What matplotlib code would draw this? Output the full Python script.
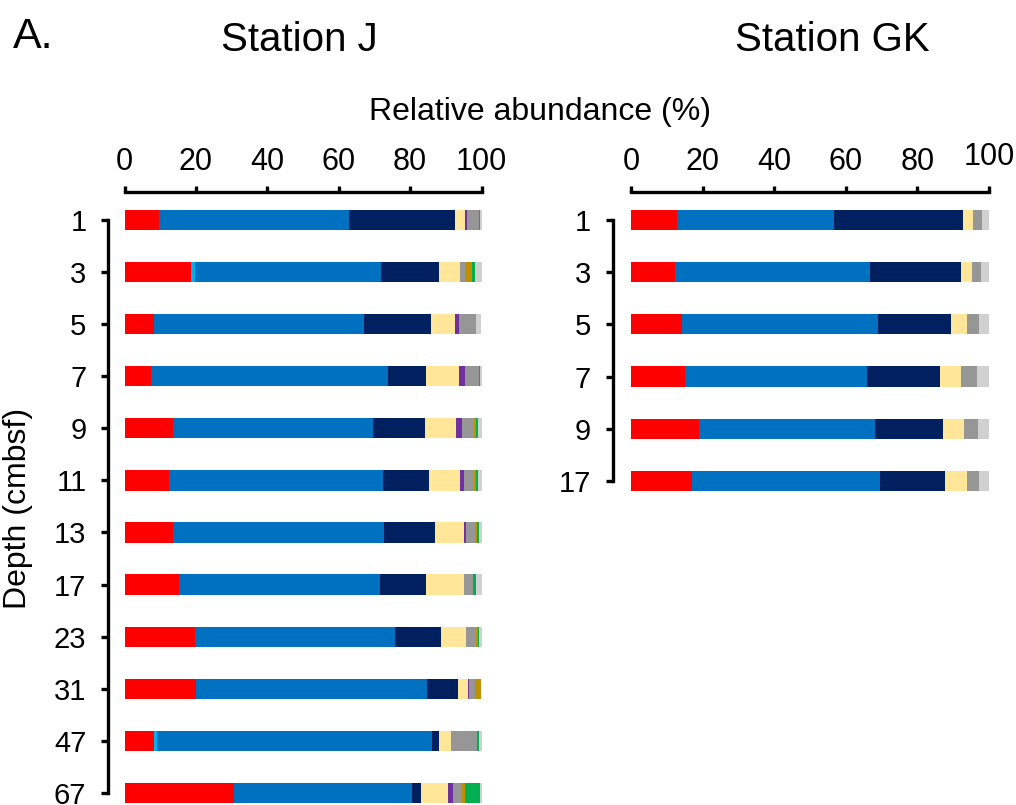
import matplotlib

matplotlib.use("Agg")
import matplotlib.pyplot as plt
import matplotlib.transforms as mtransforms
import numpy as np

plt.rcParams.update({
    "font.family": ["Liberation Sans", "DejaVu Sans"],
    "font.size": 22,
})

TAXA = ["red", "cyan", "blue", "navy", "yellow", "purple", "gray", "gold", "green", "lightgray"]
TAXA_COLORS = ["#FF0000", "#00B0F0", "#0070C0", "#002060", "#FFE699",
               "#7030A0", "#969696", "#BF9000", "#00B050", "#D0D0D0"]

# station J, relative abundance (%) per depth, in TAXA order
depth_j = ["1", "3", "5", "7", "9", "11", "13", "17", "23", "31", "47", "67"]
red_j = [9.7, 18.5, 8.3, 7.4, 13.7, 12.5, 13.5, 15.2, 19.8, 20.1, 8.3, 30.7]
cyan_j = [0, 1.2, 0, 0, 0, 0, 0, 0, 0, 0, 0.7, 0]
blue_j = [53.3, 52.1, 58.8, 66.3, 55.9, 59.8, 59.3, 56.4, 56.0, 64.6, 77.1, 49.8]
navy_j = [29.7, 16.4, 18.8, 10.7, 14.5, 13.0, 14.2, 12.8, 12.9, 8.6, 2.1, 2.6]
yellow_j = [2.7, 5.8, 6.6, 9.4, 8.7, 8.8, 8.1, 10.8, 6.9, 3.0, 3.3, 7.6]
purple_j = [0.5, 0, 1.3, 1.7, 1.7, 1.0, 0.6, 0, 0, 0.3, 0, 1.4]
gray_j = [3.3, 1.5, 4.6, 3.8, 3.3, 2.8, 2.5, 2.3, 2.9, 1.6, 7.2, 2.4]
gold_j = [0, 1.9, 0, 0, 0.6, 0.5, 0.4, 0, 0.4, 1.6, 0, 1.0]
green_j = [0.4, 0.7, 0, 0.4, 0.7, 0.7, 0.6, 1.0, 0.4, 0, 0.6, 4.2]
lgray_j = [0.4, 1.9, 1.6, 0.3, 0.9, 0.9, 0.8, 1.5, 0.7, 0.2, 0.7, 0.3]

# station GK
depth_gk = ["1", "3", "5", "7", "9", "17"]
red_gk = [12.9, 12.4, 14.2, 15.2, 18.9, 17.1]
blue_gk = [43.8, 54.4, 54.9, 50.7, 49.2, 52.5]
navy_gk = [36.1, 25.3, 20.2, 20.3, 19.0, 18.1]
yellow_gk = [2.6, 3.2, 4.5, 6.0, 5.9, 6.1]
gray_gk = [2.6, 2.6, 3.3, 4.4, 3.9, 3.4]
lgray_gk = [2.0, 2.1, 2.9, 3.4, 3.1, 2.8]
zero_gk = [0] * len(depth_gk)

series_j = [red_j, cyan_j, blue_j, navy_j, yellow_j, purple_j, gray_j, gold_j, green_j, lgray_j]
series_gk = [red_gk, zero_gk, blue_gk, navy_gk, yellow_gk, zero_gk, gray_gk, zero_gk, zero_gk, lgray_gk]

W, H = 1016, 805
fig = plt.figure(figsize=(W / 100, H / 100), dpi=100)


def px_axes(x0, y0, x1, y1):
    return fig.add_axes([x0 / W, 1 - y1 / H, (x1 - x0) / W, (y1 - y0) / H])


def stacked(ax, depths, series, ylim, spine_off):
    y = np.arange(len(depths))
    left = np.zeros(len(depths))
    for vals, col in zip(series, TAXA_COLORS):
        vals = np.asarray(vals, dtype=float)
        ax.barh(y, vals, left=left, height=0.39, color=col, lw=0)
        left += vals
    ax.set_xlim(0, 100)
    ax.set_ylim(*ylim)
    ax.set_yticks(y, depths)
    ax.set_xticks(np.arange(0, 101, 20))
    ax.xaxis.tick_top()
    for s in ("right", "bottom"):
        ax.spines[s].set_visible(False)
    ax.spines["top"].set_linewidth(2.4)
    ax.spines["left"].set_linewidth(2.4)
    ax.spines["left"].set_position(("outward", spine_off))
    ax.spines["left"].set_bounds(y[0], y[-1])
    ax.tick_params(axis="x", direction="out", length=4.5, width=2.4, pad=6, labelsize=22)
    ax.tick_params(axis="y", direction="out", length=5, width=2.4, pad=10.5, labelsize=21)


ax_j = px_axes(124.5, 192, 481.5, 806)
stacked(ax_j, depth_j, series_j, (11.25, -0.535), 11.9)
ax_gk = px_axes(631, 192, 989, 507)
stacked(ax_gk, depth_gk, series_gk, (5.5, -0.535), 13.2)
# the "100" label of the GK axis sits a little higher in the original
lab100 = ax_gk.get_xticklabels()[-1]
lab100.set_transform(lab100.get_transform()
                     + mtransforms.ScaledTranslation(0, 5 / 100, fig.dpi_scale_trans))

fig.text(13 / W, 1 - 37 / H, "A.", fontsize=31, va="center", ha="left")
fig.text(299 / W, 1 - 40 / H, "Station J", fontsize=29, va="center", ha="center")
fig.text(832 / W, 1 - 40 / H, "Station GK", fontsize=29, va="center", ha="center")
fig.text(540 / W, 1 - 112 / H, "Relative abundance (%)", fontsize=23, va="center", ha="center")
fig.text(18 / W, 1 - 508 / H, "Depth (cmbsf)", fontsize=23, va="center", ha="center",
         rotation=90)

fig.savefig("out.png", dpi=100)
